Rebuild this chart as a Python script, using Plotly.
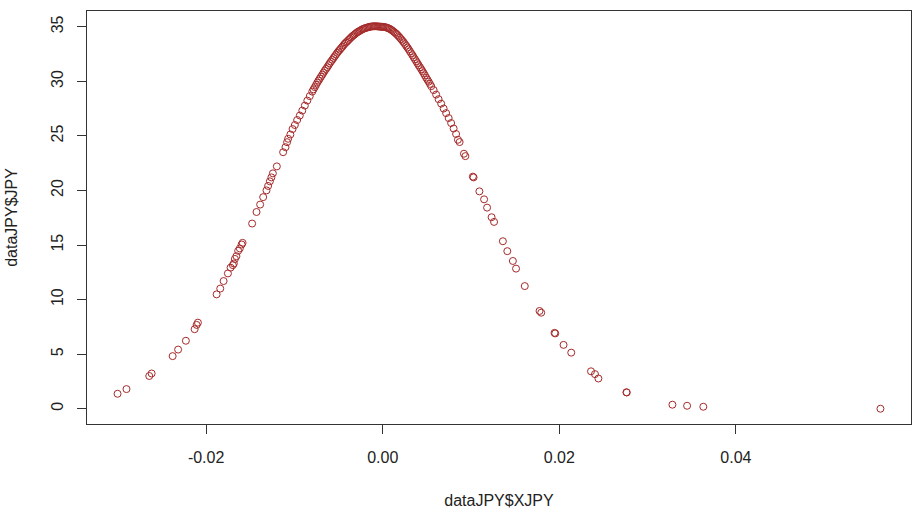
import plotly.graph_objects as go

# Return observations (x) and density values (y) for the JPY series
x_left = [
    -0.03003, -0.02902, -0.02644, -0.02617, -0.02379, -0.02317, -0.02229,
    -0.02130, -0.02107, -0.02093, -0.01881, -0.01840, -0.01802, -0.01753,
    -0.01723, -0.01697, -0.01686, -0.01674, -0.01657, -0.01637, -0.01618,
    -0.01598, -0.01587, -0.01479, -0.01429, -0.01388, -0.01354, -0.01316,
    -0.01298, -0.01278, -0.01261, -0.01244, -0.01199, -0.01128, -0.01101,
    -0.01083, -0.01071,
]
y_left = [
    1.37, 1.80, 3.00, 3.23, 4.82, 5.42, 6.23,
    7.29, 7.68, 7.89, 10.48, 11.01, 11.70, 12.40,
    12.93, 13.16, 13.31, 13.73, 13.98, 14.47, 14.69,
    15.05, 15.20, 16.97, 18.03, 18.71, 19.39, 20.01,
    20.42, 20.84, 21.20, 21.57, 22.21, 23.51, 23.97,
    24.43, 24.74,
]

x_center = [
    -0.01046, -0.01021, -0.00995, -0.00969, -0.00939, -0.00911, -0.00882,
    -0.00854, -0.00826, -0.00798, -0.00769, -0.00741, -0.00713, -0.00684,
    -0.00656, -0.00628, -0.00600, -0.00571, -0.00543, -0.00515, -0.00486,
    -0.00458, -0.00430, -0.00402, -0.00373, -0.00345, -0.00317, -0.00288,
    -0.00260, -0.00232, -0.00204, -0.00175, -0.00147, -0.00119, -0.00090,
    -0.00062, -0.00034, -0.00011, 0.00011, 0.00040, 0.00068, 0.00096,
    0.00124, 0.00153, 0.00181, 0.00209, 0.00238, 0.00266, 0.00294,
    0.00322, 0.00351, 0.00379, 0.00407, 0.00436, 0.00464, 0.00492,
    0.00520, 0.00549, 0.00577, 0.00605, 0.00633, 0.00662, 0.00690,
    0.00718, 0.00747, 0.00775, 0.00803, 0.00831,
]
y_center = [
    25.13, 25.63, 26.00, 26.46, 26.87, 27.32, 27.78,
    28.24, 28.65, 29.06, 29.47, 29.88, 30.25, 30.61,
    30.98, 31.30, 31.66, 31.98, 32.30, 32.62, 32.90,
    33.17, 33.45, 33.67, 33.90, 34.13, 34.31, 34.50,
    34.63, 34.77, 34.86, 34.94, 35.00, 35.04, 35.05,
    35.04, 35.02, 35.00, 34.99, 34.94, 34.86, 34.73,
    34.56, 34.36, 34.13, 33.86, 33.58, 33.26, 32.94,
    32.58, 32.21, 31.85, 31.48, 31.12, 30.75, 30.34,
    29.97, 29.56, 29.20, 28.79, 28.37, 27.96, 27.51,
    27.09, 26.64, 26.18, 25.68, 25.18,
]

# Observations packed tightly around the mode
x_peak = [
    -0.00784, -0.00755, -0.00727, -0.00699, -0.00670, -0.00642, -0.00614,
    -0.00586, -0.00557, -0.00529, -0.00501, -0.00472, -0.00444, -0.00416,
    -0.00388, -0.00359, -0.00331, -0.00303, -0.00274, -0.00246, -0.00218,
    -0.00190, -0.00161, -0.00133, -0.00105, -0.00076, -0.00048, -0.00022,
    0.00000, 0.00026, 0.00054, 0.00082, 0.00110, 0.00139, 0.00167,
    0.00195, 0.00224, 0.00252, 0.00280, 0.00308, 0.00337, 0.00365,
    0.00393, 0.00422, 0.00450, 0.00478, 0.00506, 0.00535,
]
y_peak = [
    29.27, 29.68, 30.07, 30.43, 30.80, 31.14, 31.48,
    31.82, 32.14, 32.46, 32.76, 33.04, 33.31, 33.56,
    33.79, 34.02, 34.22, 34.41, 34.57, 34.70, 34.82,
    34.90, 34.97, 35.02, 35.05, 35.05, 35.03, 35.01,
    35.00, 34.97, 34.90, 34.80, 34.65, 34.46, 34.25,
    34.00, 33.72, 33.42, 33.10, 32.76, 32.40, 32.03,
    31.67, 31.30, 30.94, 30.55, 30.16, 29.77,
]

x_right = [
    0.00852, 0.00871, 0.00920, 0.00936, 0.01021, 0.01029, 0.01095,
    0.01148, 0.01182, 0.01233, 0.01261, 0.01361, 0.01411, 0.01474,
    0.01510, 0.01609, 0.01776, 0.01795, 0.01946, 0.01954, 0.02048,
    0.02135, 0.02359, 0.02404, 0.02443, 0.02760, 0.02764, 0.03281,
    0.03447, 0.03631, 0.05637,
]
y_right = [
    24.65, 24.44, 23.37, 23.15, 21.27, 21.20, 19.92,
    19.19, 18.43, 17.55, 17.12, 15.35, 14.44, 13.54,
    12.84, 11.24, 8.96, 8.80, 6.95, 6.90, 5.85,
    5.14, 3.43, 3.17, 2.77, 1.51, 1.49, 0.37,
    0.27, 0.18, 0.00,
]

x_vals = x_left + x_center + x_peak + x_right
y_vals = y_left + y_center + y_peak + y_right

x_ticks = [-0.02, 0.00, 0.02, 0.04]
x_tick_text = ["-0.02", "0.00", "0.02", "0.04"]
y_ticks = [0, 5, 10, 15, 20, 25, 30, 35]

font_family = "Liberation Sans, Arial, sans-serif"
axis_color = "#333333"

fig = go.Figure(
    go.Scatter(
        x=x_vals,
        y=y_vals,
        mode="markers",
        marker=dict(
            symbol="circle-open",
            size=7,
            color="#A52A2A",
            line=dict(width=1, color="#A52A2A"),
        ),
        showlegend=False,
    )
)

fig.update_layout(
    width=914,
    height=517,
    margin=dict(l=87, r=3, t=11, b=93),
    paper_bgcolor="white",
    plot_bgcolor="white",
    font=dict(family=font_family, size=16, color="#222222"),
)

fig.update_xaxes(
    range=[-0.03349, 0.05983],
    tickvals=x_ticks,
    ticktext=x_tick_text,
    ticks="outside",
    ticklen=9,
    tickwidth=1,
    tickcolor=axis_color,
    ticklabelstandoff=10,
    showgrid=False,
    zeroline=False,
    showline=True,
    linecolor=axis_color,
    linewidth=1,
    mirror=True,
    title=dict(text="dataJPY$XJPY", standoff=29, font=dict(size=16)),
)

fig.update_yaxes(
    range=[-1.40, 36.45],
    tickvals=y_ticks,
    ticks="outside",
    ticklen=9,
    tickwidth=1,
    tickcolor=axis_color,
    tickangle=-90,
    ticklabelstandoff=8,
    showgrid=False,
    zeroline=False,
    showline=True,
    linecolor=axis_color,
    linewidth=1,
    mirror=True,
    title=dict(text="dataJPY$JPY", standoff=26, font=dict(size=16)),
)

fig.write_html("out.html")
